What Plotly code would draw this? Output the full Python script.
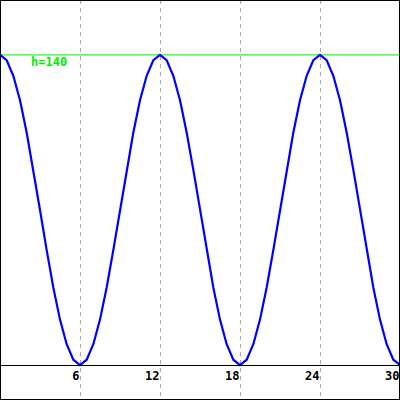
import plotly.graph_objects as go

# x positions (step 0.5) and the wave heights
x_vals = [i * 0.5 for i in range(61)]
one_period = [140, 137.6, 130.6, 119.5, 105, 88.1, 70, 51.9, 35, 20.5, 9.4, 2.4,
              0, 2.4, 9.4, 20.5, 35, 51.9, 70, 88.1, 105, 119.5, 130.6, 137.6]
y_vals = (one_period * 3)[:61]

tick_vals = [6, 12, 18, 24, 30]
tick_text = ["6", "12", "18", "24", "30"]
h_level = 140
h_label = "h=140"

y_lo, y_hi = -15.8, 164.8

fig = go.Figure()
fig.add_trace(go.Scatter(x=x_vals, y=y_vals, mode="lines",
                         line=dict(color="#0000ff", width=2.2), hoverinfo="skip",
                         cliponaxis=False))

fig.add_shape(type="line", xref="x", yref="y", x0=0, x1=30, y0=h_level, y1=h_level,
              line=dict(color="#00ee00", width=1), layer="below")
fig.add_shape(type="rect", xref="paper", yref="paper", x0=0, x1=1, y0=0, y1=1,
              line=dict(color="black", width=2), layer="above")

fig.add_annotation(x=2.2, y=137, xref="x", yref="y", text="<b>" + h_label + "</b>",
                   showarrow=False, xanchor="left", yanchor="middle",
                   font=dict(family="DejaVu Sans Mono", size=12, color="#00ee00"))

fig.update_layout(
    width=400, height=400, margin=dict(l=0, r=0, t=0, b=0),
    paper_bgcolor="white", plot_bgcolor="white", showlegend=False,
    xaxis=dict(range=[0, 30], tickvals=tick_vals, ticktext=tick_text,
               showgrid=True, gridcolor="#a8a8a8", griddash="4px,4px", gridwidth=1,
               showline=True, linecolor="black", linewidth=1,
               anchor="free", position=(0 - y_lo) / (y_hi - y_lo),
               ticks="", ticklabelposition="outside left",
               tickfont=dict(family="DejaVu Sans Mono", size=12, color="black", weight="bold"),
               zeroline=False),
    yaxis=dict(range=[y_lo, y_hi], showgrid=False, showticklabels=False,
               zeroline=False, ticks=""),
)

fig.write_html("out.html", config={"displayModeBar": False},
               post_script="document.body.style.margin='0';")
